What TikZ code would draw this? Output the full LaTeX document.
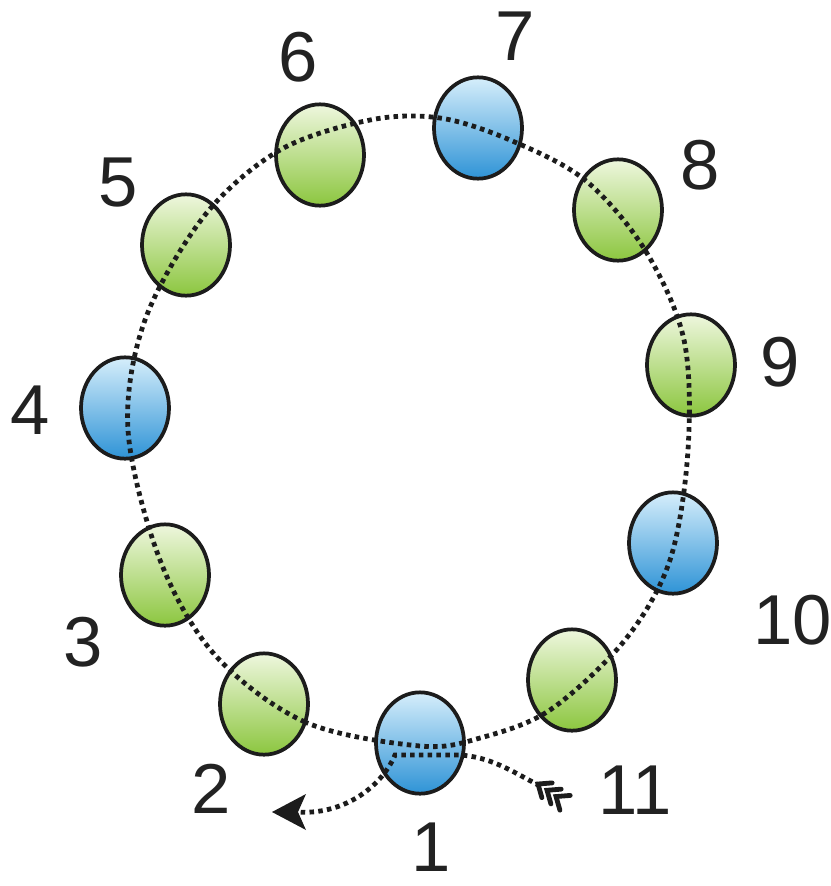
\documentclass[tikz,border=0pt]{standalone}
\usepackage{fontspec}
\setmainfont{Liberation Sans}
\usetikzlibrary{shapes.geometric,arrows.meta,calc}
\definecolor{gtop}{HTML}{EEF7DE}
\definecolor{gbot}{HTML}{8CC63F}
\definecolor{btop}{HTML}{D6EEFB}
\definecolor{bbot}{HTML}{2E93D6}
\definecolor{rimc}{HTML}{1C1C1C}
\definecolor{txtc}{HTML}{222222}
\tikzset{
  ball/.style={ellipse, draw=rimc, line width=2.8pt, minimum width=66pt, minimum height=76pt, inner sep=0pt},
  gball/.style={ball, top color=gtop, bottom color=gbot},
  bball/.style={ball, top color=btop, bottom color=bbot},
  dotline/.style={draw=rimc, line width=3.6pt, dash pattern=on 3.4pt off 3.2pt},
  lab/.style={font=\fontsize{53}{53}\selectfont, text=txtc, inner sep=0pt},
  feather/.style={draw=rimc, line width=3.6pt, line cap=round}
}
\begin{document}
\begin{tikzpicture}[x=0.75pt,y=-0.75pt]
\useasboundingbox (0,0) rectangle (831,886);
% balls
\node[bball] (b1) at (420,743) {};
\node[gball] (b2) at (264,704) {};
\node[gball] (b3) at (165,575) {};
\node[bball] (b4) at (125,408) {};
\node[gball] (b5) at (186,245) {};
\node[gball] (b6) at (320,155) {};
\node[bball] (b7) at (478,128) {};
\node[gball] (b8) at (618,210) {};
\node[gball] (b9) at (691,365) {};
\node[bball] (b10) at (673,543) {};
\node[gball] (b11) at (572,680) {};
% dotted loop
\draw[dotline] plot[smooth cycle, tension=0.55] coordinates {
 (420,746) (305,722) (215,655) (160,560) (128,430) (145,320)
 (205,215) (280,150) (370,120) (440,118) (510,140) (585,180)
 (645,250) (684,340) (688,450) (670,560) (625,640) (550,710) (480,738)};
% entry / exit path
\coordinate (tail) at (540,786);
\coordinate (tip) at (272,812);
\draw[dotline] (tail) .. controls (510,770) and (490,757) .. (460,755)
  -- (395,755) .. controls (380,790) and (340,815) .. (298,812);
\fill[rimc] (tip) -- (306,794) -- (298,812) -- (306,830) -- cycle;
% feathers
\foreach \d in {0,11,22}{
  \coordinate (fv) at ($(538,784)+(\d*0.82,\d*0.57)$);
  \draw[feather] ($(fv)+(11*0.82-9*0.57,11*0.57+9*0.82)$) -- (fv) -- ($(fv)+(11*0.82+9*0.57,11*0.57-9*0.82)$);
}
% labels
\node[lab] (l1) at (431,847) {1};
\node[lab] (l2) at (211,789) {2};
\node[lab] (l3) at (83,642) {3};
\node[lab] (l4) at (30,410) {4};
\node[lab] (l5) at (118,183) {5};
\node[lab] (l6) at (298,57) {6};
\node[lab] (l7) at (515,36) {7};
\node[lab] (l8) at (700,165) {8};
\node[lab] (l9) at (780,362) {9};
\node[lab] (l10) at (793,620) {10};
\node[lab] (l11) at (635,790) {11};
\end{tikzpicture}
\end{document}
